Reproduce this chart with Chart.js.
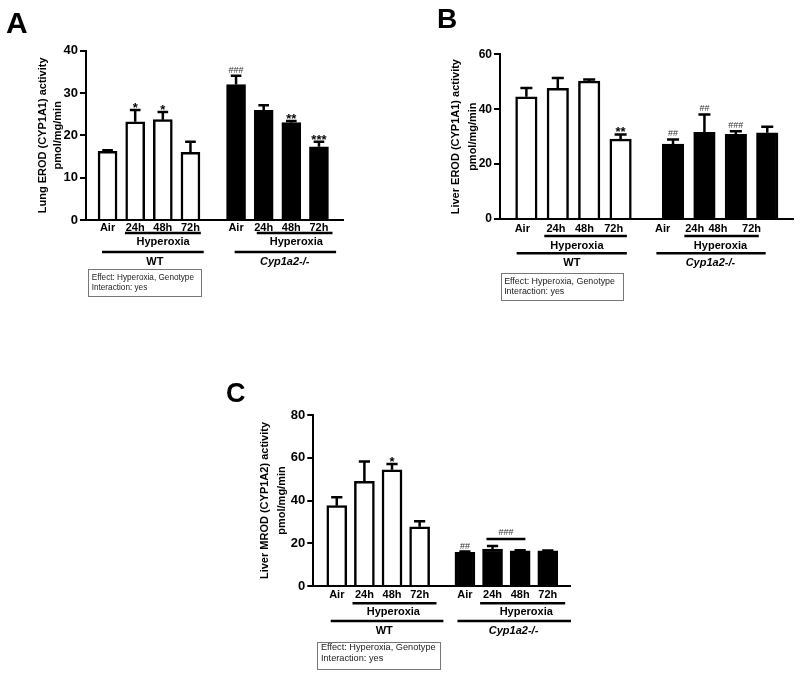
<!DOCTYPE html>
<html>
<head>
<meta charset="utf-8">
<script src="https://cdn.jsdelivr.net/npm/chart.js@4.4.0/dist/chart.umd.min.js"></script>
<style>
  body { margin: 0; background: #fff; width: 800px; height: 676px; position: relative; overflow: hidden; }
  canvas { position: absolute; }
</style>
</head>
<body>
<canvas id="panelA" width="400" height="340" style="left:0;top:0"></canvas>
<canvas id="panelB" width="400" height="340" style="left:400px;top:0"></canvas>
<canvas id="panelC" width="400" height="336" style="left:200px;top:340px"></canvas>
<script>
var timeLabels = ['Air', '24h', '48h', '72h'];
var genotypes = ['WT', 'Cyp1a2-/-'];
var treatment = 'Hyperoxia';
var statsNote = ['Effect: Hyperoxia, Genotype', 'Interaction: yes'];

// A - lung EROD (CYP1A1)
var lungErodWT = [16.2, 23.2, 23.7, 16.0];
var lungErodWTsem = [0.3, 2.8, 1.8, 2.5];
var lungErodWTsig = ['', '*', '*', ''];
var lungErodKO = [32.0, 25.9, 23.0, 17.3];
var lungErodKOsem = [2.1, 1.2, 0.4, 1.2];
var lungErodKOsig = ['###', '', '**', '***'];

// B - liver EROD (CYP1A1)
var liverErodWT = [44.5, 47.6, 50.2, 29.1];
var liverErodWTsem = [3.2, 3.8, 0.6, 1.7];
var liverErodWTsig = ['', '', '', '**'];
var liverErodKO = [27.3, 31.6, 30.8, 31.4];
var liverErodKOsem = [1.7, 6.5, 1.2, 2.2];
var liverErodKOsig = ['##', '##', '###', ''];

// C - liver MROD (CYP1A2)
var liverMrodWT = [37.6, 49.0, 54.4, 27.7];
var liverMrodWTsem = [3.9, 9.2, 2.7, 2.6];
var liverMrodWTsig = ['', '', '*', ''];
var liverMrodKO = [15.8, 17.3, 16.5, 16.5];
var liverMrodKOsem = [0.3, 1.4, 0.2, 0.1];
var liverMrodKOsig = ['##', '', '', ''];

var FONT = '"Liberation Sans", Arial, sans-serif';
Chart.defaults.font.family = FONT;
Chart.defaults.color = '#000';

function sigFont(s) {
  return s.charAt(0) === '#' ? '9px ' + FONT : 'bold 13px ' + FONT;
}

var extras = {
  id: 'extras',
  afterDatasetsDraw: function (chart) {
    var ctx = chart.ctx, ys = chart.scales.y, p = chart.options.plugins.extras;
    chart.data.datasets.forEach(function (ds, di) {
      chart.getDatasetMeta(di).data.forEach(function (bar, i) {
        var top = ys.getPixelForValue(ds.data[i].y + ds.sem[i]);
        var cap = p.barW * 0.28;
        ctx.save();
        ctx.strokeStyle = '#000';
        ctx.lineWidth = 2.5;
        ctx.beginPath();
        ctx.moveTo(bar.x, bar.y);
        ctx.lineTo(bar.x, top);
        ctx.moveTo(bar.x - cap, top);
        ctx.lineTo(bar.x + cap, top);
        ctx.stroke();
        var s = ds.sig[i];
        if (s) {
          ctx.font = sigFont(s);
          ctx.fillStyle = s.charAt(0) === '#' ? '#333' : '#000';
          ctx.textAlign = 'center';
          ctx.textBaseline = 'alphabetic';
          ctx.fillText(s, bar.x, s.charAt(0) === '#' ? top - 3 : top + 2);
        }
        ctx.restore();
      });
    });
  },
  afterDraw: function (chart) {
    var ctx = chart.ctx, xs = chart.scales.x, ys = chart.scales.y;
    var p = chart.options.plugins.extras, b = chart.chartArea.bottom;
    ctx.save();
    ctx.strokeStyle = '#000';
    ctx.fillStyle = '#000';
    ctx.lineWidth = 2.5;
    ctx.textAlign = 'center';
    ctx.textBaseline = 'middle';
    p.lines.forEach(function (l) {
      ctx.beginPath();
      ctx.moveTo(xs.getPixelForValue(l[0]), b + l[2]);
      ctx.lineTo(xs.getPixelForValue(l[1]), b + l[2]);
      ctx.stroke();
    });
    p.texts.forEach(function (t) {
      ctx.font = t[3];
      ctx.fillText(t[0], xs.getPixelForValue(t[1]), b + t[2]);
    });
    if (p.bracket) {
      var k = p.bracket, by = ys.getPixelForValue(k.at);
      ctx.beginPath();
      ctx.moveTo(xs.getPixelForValue(k.from), by);
      ctx.lineTo(xs.getPixelForValue(k.to), by);
      ctx.stroke();
      ctx.font = sigFont(k.label);
      ctx.fillStyle = '#333';
      ctx.textBaseline = 'alphabetic';
      ctx.fillText(k.label, (xs.getPixelForValue(k.from) + xs.getPixelForValue(k.to)) / 2, by - 4);
    }
    // stats box
    var bx1 = xs.getPixelForValue(p.box[0]), bx2 = xs.getPixelForValue(p.box[1]);
    ctx.lineWidth = 1;
    ctx.strokeStyle = '#777';
    ctx.strokeRect(Math.round(bx1) + 0.5, Math.round(b + p.box[2]) + 0.5, Math.round(bx2 - bx1), Math.round(p.box[3] - p.box[2]));
    ctx.fillStyle = '#222';
    ctx.textAlign = 'left';
    ctx.font = p.boxFont + 'px ' + FONT;
    ctx.fillText(statsNote[0], bx1 + 3.5, b + p.box[2] + 8.5);
    ctx.fillText(statsNote[1], bx1 + 3.5, b + p.box[2] + 19);
    // panel letter
    ctx.fillStyle = '#000';
    ctx.textBaseline = 'alphabetic';
    ctx.font = 'bold ' + p.letter[3] + 'px ' + FONT;
    ctx.fillText(p.letter[0], p.letter[1], p.letter[2]);
    ctx.restore();
  }
};

function makePanel(id, cfg) {
  var boldSm = 'bold 11px ' + FONT;
  var tickPos = cfg.tickPos || cfg.barPos;
  var tickText = timeLabels.concat(timeLabels);
  var wtPts = cfg.wt.map(function (v, i) { return { x: cfg.barPos[i], y: v }; });
  var koPts = cfg.ko.map(function (v, i) { return { x: cfg.barPos[i + 4], y: v }; });
  var L = cfg.lay;
  new Chart(document.getElementById(id), {
    type: 'bar',
    data: {
      datasets: [
        { label: genotypes[0], data: wtPts, sem: cfg.wtSem, sig: cfg.wtSig,
          backgroundColor: '#fff', borderColor: '#000', borderWidth: 2.5 },
        { label: genotypes[1], data: koPts, sem: cfg.koSem, sig: cfg.koSig,
          backgroundColor: '#000', borderColor: '#000', borderWidth: 2.5 }
      ]
    },
    options: {
      responsive: false,
      animation: false,
      grouped: false,
      barThickness: cfg.barW,
      layout: { padding: { left: cfg.padL, top: cfg.padT, right: cfg.padR, bottom: 0 } },
      plugins: {
        legend: { display: false },
        tooltip: { enabled: false },
        extras: {
          barW: cfg.barW,
          lines: [
            [L.hypWT[0], L.hypWT[1], L.y[0]],
            [L.hypKO[0], L.hypKO[1], L.y[0]],
            [L.grpWT[0], L.grpWT[1], L.y[2]],
            [L.grpKO[0], L.grpKO[1], L.y[2]]
          ],
          texts: [
            [treatment, L.txt[0], L.y[1], boldSm],
            [treatment, L.txt[1], L.y[1], boldSm],
            [genotypes[0], L.txt[2], L.y[3], boldSm],
            [genotypes[1], L.txt[3], L.y[3], 'italic bold 11px ' + FONT]
          ],
          bracket: cfg.bracket,
          box: L.box,
          boxFont: L.boxFont,
          letter: cfg.letter
        }
      },
      scales: {
        x: {
          type: 'linear',
          offset: false,
          min: cfg.xMin,
          max: cfg.xMax,
          afterBuildTicks: function (s) { s.ticks = tickPos.map(function (v) { return { value: v }; }); },
          afterFit: function (s) { s.height = cfg.xH; },
          ticks: {
            autoSkip: false, maxRotation: 0, padding: cfg.tickPad, color: '#000',
            font: { size: 11, weight: 'bold' },
            callback: function (v, i) { return tickText[i]; }
          },
          grid: { display: false, drawTicks: false },
          border: { display: true, color: '#000', width: 2 }
        },
        y: {
          min: 0,
          max: cfg.yMax,
          afterFit: function (s) { s.width = cfg.yW; },
          ticks: { stepSize: cfg.yStep, padding: 2, color: '#000', font: { size: cfg.yFont, weight: 'bold' } },
          grid: { display: true, drawOnChartArea: false, drawTicks: true, tickLength: 6, color: '#000', lineWidth: 2 },
          border: { display: true, color: '#000', width: 2 },
          title: {
            display: true, text: cfg.yTitle, color: '#000', padding: { top: 0, bottom: 0 },
            font: { size: 11, weight: 'bold', lineHeight: cfg.titleLH }
          }
        }
      }
    },
    plugins: [extras]
  });
}

makePanel('panelA', {
  wt: lungErodWT, wtSem: lungErodWTsem, wtSig: lungErodWTsig,
  ko: lungErodKO, koSem: lungErodKOsem, koSig: lungErodKOsig,
  yTitle: ['Lung EROD (CYP1A1) activity', 'pmol/mg/min'],
  yMax: 40, yStep: 10, yFont: 13,
  barPos: [0, 1, 2, 3, 4.65, 5.65, 6.65, 7.65],
  xMin: -0.78, xMax: 8.52, barW: 19,
  padL: 35.5, padT: 50.7, padR: 57, yW: 50.5, xH: 120, titleLH: 15 / 11, tickPad: 1,
  lay: {
    hypWT: [0.63, 3.375], hypKO: [5.4, 8.14], grpWT: [-0.2, 3.48], grpKO: [4.6, 8.27],
    txt: [2.01, 6.83, 1.71, 6.41],
    y: [13, 22, 32, 42],
    box: [-0.7, 3.375, 49, 76], boxFont: 8.2
  },
  letter: ['A', 6, 33, 30]
});

makePanel('panelB', {
  wt: liverErodWT, wtSem: liverErodWTsem, wtSig: liverErodWTsig,
  ko: liverErodKO, koSem: liverErodKOsem, koSig: liverErodKOsig,
  yTitle: ['Liver EROD (CYP1A1) activity', 'pmol/mg/min'],
  yMax: 60, yStep: 20, yFont: 12,
  barPos: [0, 1, 2, 3, 4.67, 5.67, 6.67, 7.67],
  tickPos: [-0.13, 0.94, 1.85, 2.78, 4.34, 5.36, 6.1, 7.17],
  xMin: -0.84, xMax: 8.49, barW: 21.5,
  padL: 47, padT: 54.3, padR: 7, yW: 53, xH: 121, titleLH: 17 / 11, tickPad: 3.5,
  lay: {
    hypWT: [0.57, 3.2], hypKO: [5.03, 7.4], grpWT: [-0.31, 3.2], grpKO: [4.14, 7.62],
    txt: [1.61, 6.18, 1.45, 5.86],
    y: [17, 26.7, 34.3, 44],
    box: [-0.82, 3.06, 53.7, 80.3], boxFont: 8.9
  },
  letter: ['B', 37, 27.5, 28]
});

makePanel('panelC', {
  wt: liverMrodWT, wtSem: liverMrodWTsem, wtSig: liverMrodWTsig,
  ko: liverMrodKO, koSem: liverMrodKOsem, koSig: liverMrodKOsig,
  yTitle: ['Liver MROD (CYP1A2) activity', 'pmol/mg/min'],
  yMax: 80, yStep: 20, yFont: 13,
  barPos: [0, 1, 2, 3, 4.64, 5.64, 6.64, 7.64],
  xMin: -0.85, xMax: 8.47, barW: 20,
  padL: 56.75, padT: 75, padR: 29.3, yW: 56.55, xH: 90, titleLH: 16.5 / 11, tickPad: 2,
  bracket: { from: 5.42, to: 6.83, at: 22, label: '###' },
  lay: {
    hypWT: [0.57, 3.61], hypKO: [5.19, 8.27], grpWT: [-0.22, 3.86], grpKO: [4.37, 8.48],
    txt: [2.05, 6.86, 1.72, 6.4],
    y: [17.3, 26, 35, 45],
    box: [-0.7, 3.77, 55.7, 82.3], boxFont: 9.2
  },
  letter: ['C', 26, 61.5, 27]
});
</script>
</body>
</html>
